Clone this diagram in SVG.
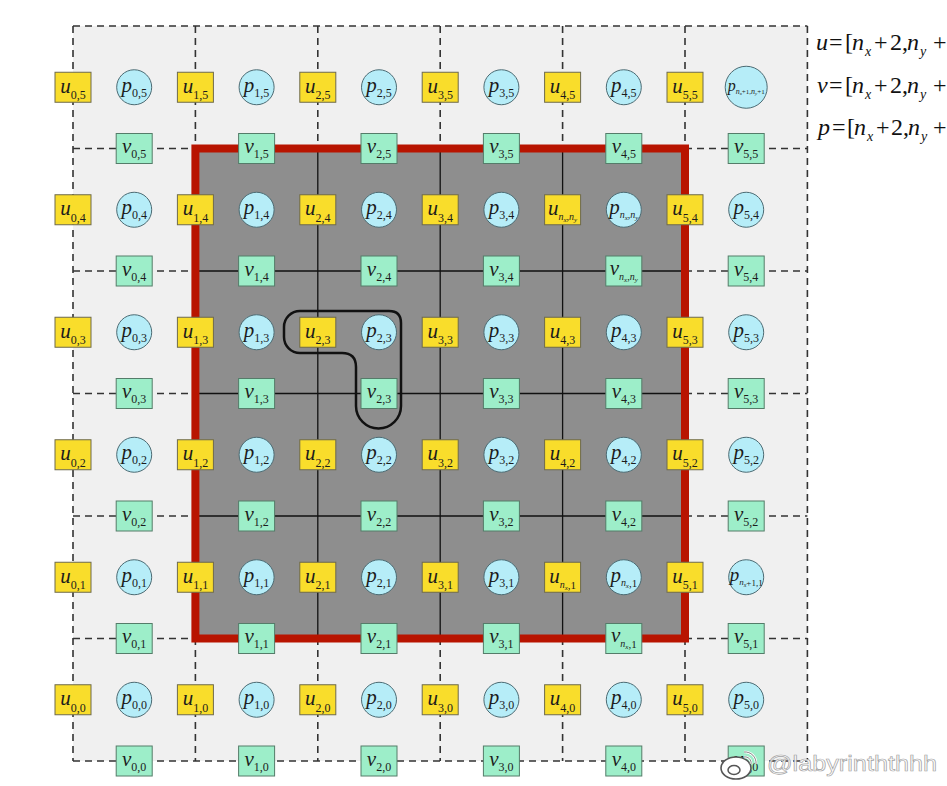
<svg xmlns="http://www.w3.org/2000/svg" width="947" height="786" viewBox="0 0 947 786">
<style>
.bg{fill:#f0f0f0}
.dash{stroke:#333;stroke-width:1.6;stroke-dasharray:7 5;fill:none}
.solid{stroke:#111;stroke-width:1.3;fill:none}
.u rect{fill:#f9dd2b;stroke:#6e6a4c;stroke-width:1}
.v rect{fill:#9deec9;stroke:#547c69;stroke-width:1}
.p circle{fill:#b6edf8;stroke:#4c6b73;stroke-width:1}
text{font-family:"Liberation Serif","Times New Roman",serif;font-style:italic;font-size:21px;text-anchor:middle;fill:#1c1c1c}
tspan.s{font-size:12px;font-style:normal}
tspan.n{font-size:10px;font-style:italic}
tspan.ss{font-size:7px;font-style:italic}
tspan.c{font-size:10px;font-style:normal}
.f text{font-size:24px;text-anchor:start;font-style:normal;fill:#111}
.f .i{font-style:italic}
.f .sb{font-size:14px;font-style:italic}
</style>
<rect width="947" height="786" fill="#ffffff"/>
<rect class="bg" x="73" y="26" width="734.4" height="735"/>
<g id="grid">
<path class="dash" d="M73,26V761M195.4,26V761M317.8,26V761M440.2,26V761M562.6,26V761M685,26V761M807.4,26V761"/>
<path class="dash" d="M73,26H807.4M73,148.5H807.4M73,271H807.4M73,393.5H807.4M73,516H807.4M73,638.5H807.4M73,761H807.4"/>
<rect x="195.4" y="148.5" width="489.6" height="490" fill="#8e8e8e"/>
<path class="solid" d="M317.8,148.5V638.5M440.2,148.5V638.5M562.6,148.5V638.5M195.4,271H685M195.4,393.5H685M195.4,516H685"/>
<rect x="195.4" y="148.5" width="489.6" height="490" fill="none" stroke="#b81400" stroke-width="8"/>
</g>
<g id="connectors">
<path d="M300,311H389Q401,311 401,323V406A22.5,22.5 0 0 1 356,406V367Q356,353 342,353H300A16,16 0 0 1 284,337V327A16,16 0 0 1 300,311Z" fill="none" stroke="#111" stroke-width="2.5"/>
</g>
<g id="nodes">
<g id="u05" class="u" transform="translate(73,87.25)"><rect x="-18" y="-15" width="36" height="30"/><text y="5.5">u<tspan class="s" dy="6.5">0,5</tspan></text></g>
<g id="u15" class="u" transform="translate(195.4,87.25)"><rect x="-18" y="-15" width="36" height="30"/><text y="5.5">u<tspan class="s" dy="6.5">1,5</tspan></text></g>
<g id="u25" class="u" transform="translate(317.8,87.25)"><rect x="-18" y="-15" width="36" height="30"/><text y="5.5">u<tspan class="s" dy="6.5">2,5</tspan></text></g>
<g id="u35" class="u" transform="translate(440.2,87.25)"><rect x="-18" y="-15" width="36" height="30"/><text y="5.5">u<tspan class="s" dy="6.5">3,5</tspan></text></g>
<g id="u45" class="u" transform="translate(562.6,87.25)"><rect x="-18" y="-15" width="36" height="30"/><text y="5.5">u<tspan class="s" dy="6.5">4,5</tspan></text></g>
<g id="u55" class="u" transform="translate(685,87.25)"><rect x="-18" y="-15" width="36" height="30"/><text y="5.5">u<tspan class="s" dy="6.5">5,5</tspan></text></g>
<g id="p05" class="p" transform="translate(134.2,87.25)"><circle r="17.5"/><text y="4.5">p<tspan class="s" dy="5">0,5</tspan></text></g>
<g id="p15" class="p" transform="translate(256.6,87.25)"><circle r="17.5"/><text y="4.5">p<tspan class="s" dy="5">1,5</tspan></text></g>
<g id="p25" class="p" transform="translate(379,87.25)"><circle r="17.5"/><text y="4.5">p<tspan class="s" dy="5">2,5</tspan></text></g>
<g id="p35" class="p" transform="translate(501.4,87.25)"><circle r="17.5"/><text y="4.5">p<tspan class="s" dy="5">3,5</tspan></text></g>
<g id="p45" class="p" transform="translate(623.8,87.25)"><circle r="17.5"/><text y="4.5">p<tspan class="s" dy="5">4,5</tspan></text></g>
<g id="p55" class="p" transform="translate(746.2,87.25)"><circle r="21"/><text y="3.5" style="font-size:16px">p<tspan class="ss" dy="3" style="font-size:8px">n</tspan><tspan class="ss" dy="1.5" style="font-size:5px">x</tspan><tspan class="c" dy="-1.5" style="font-size:7px">+1,</tspan><tspan class="ss" style="font-size:8px">n</tspan><tspan class="ss" dy="1.5" style="font-size:5px">y</tspan><tspan class="c" dy="-1.5" style="font-size:7px">+1</tspan></text></g>
<g id="v05" class="v" transform="translate(134.2,148.5)"><rect x="-18" y="-15" width="36" height="30"/><text y="4.5">v<tspan class="s" dy="5">0,5</tspan></text></g>
<g id="v15" class="v" transform="translate(256.6,148.5)"><rect x="-18" y="-15" width="36" height="30"/><text y="4.5">v<tspan class="s" dy="5">1,5</tspan></text></g>
<g id="v25" class="v" transform="translate(379,148.5)"><rect x="-18" y="-15" width="36" height="30"/><text y="4.5">v<tspan class="s" dy="5">2,5</tspan></text></g>
<g id="v35" class="v" transform="translate(501.4,148.5)"><rect x="-18" y="-15" width="36" height="30"/><text y="4.5">v<tspan class="s" dy="5">3,5</tspan></text></g>
<g id="v45" class="v" transform="translate(623.8,148.5)"><rect x="-18" y="-15" width="36" height="30"/><text y="4.5">v<tspan class="s" dy="5">4,5</tspan></text></g>
<g id="v55" class="v" transform="translate(746.2,148.5)"><rect x="-18" y="-15" width="36" height="30"/><text y="4.5">v<tspan class="s" dy="5">5,5</tspan></text></g>
<g id="u04" class="u" transform="translate(73,209.75)"><rect x="-18" y="-15" width="36" height="30"/><text y="5.5">u<tspan class="s" dy="6.5">0,4</tspan></text></g>
<g id="u14" class="u" transform="translate(195.4,209.75)"><rect x="-18" y="-15" width="36" height="30"/><text y="5.5">u<tspan class="s" dy="6.5">1,4</tspan></text></g>
<g id="u24" class="u" transform="translate(317.8,209.75)"><rect x="-18" y="-15" width="36" height="30"/><text y="5.5">u<tspan class="s" dy="6.5">2,4</tspan></text></g>
<g id="u34" class="u" transform="translate(440.2,209.75)"><rect x="-18" y="-15" width="36" height="30"/><text y="5.5">u<tspan class="s" dy="6.5">3,4</tspan></text></g>
<g id="u44" class="u" transform="translate(562.6,209.75)"><rect x="-18" y="-15" width="36" height="30"/><text y="5.5">u<tspan class="n" dy="5">n</tspan><tspan class="ss" dy="2">x</tspan><tspan class="c" dy="-2">,</tspan><tspan class="n">n</tspan><tspan class="ss" dy="2">y</tspan></text></g>
<g id="u54" class="u" transform="translate(685,209.75)"><rect x="-18" y="-15" width="36" height="30"/><text y="5.5">u<tspan class="s" dy="6.5">5,4</tspan></text></g>
<g id="p04" class="p" transform="translate(134.2,209.75)"><circle r="17.5"/><text y="4.5">p<tspan class="s" dy="5">0,4</tspan></text></g>
<g id="p14" class="p" transform="translate(256.6,209.75)"><circle r="17.5"/><text y="4.5">p<tspan class="s" dy="5">1,4</tspan></text></g>
<g id="p24" class="p" transform="translate(379,209.75)"><circle r="17.5"/><text y="4.5">p<tspan class="s" dy="5">2,4</tspan></text></g>
<g id="p34" class="p" transform="translate(501.4,209.75)"><circle r="17.5"/><text y="4.5">p<tspan class="s" dy="5">3,4</tspan></text></g>
<g id="p44" class="p" transform="translate(623.8,209.75)"><circle r="17.5"/><text y="4.5">p<tspan class="n" dy="4">n</tspan><tspan class="ss" dy="2">x</tspan><tspan class="c" dy="-2">,</tspan><tspan class="n">n</tspan><tspan class="ss" dy="2">y</tspan></text></g>
<g id="p54" class="p" transform="translate(746.2,209.75)"><circle r="17.5"/><text y="4.5">p<tspan class="s" dy="5">5,4</tspan></text></g>
<g id="v04" class="v" transform="translate(134.2,271)"><rect x="-18" y="-15" width="36" height="30"/><text y="4.5">v<tspan class="s" dy="5">0,4</tspan></text></g>
<g id="v14" class="v" transform="translate(256.6,271)"><rect x="-18" y="-15" width="36" height="30"/><text y="4.5">v<tspan class="s" dy="5">1,4</tspan></text></g>
<g id="v24" class="v" transform="translate(379,271)"><rect x="-18" y="-15" width="36" height="30"/><text y="4.5">v<tspan class="s" dy="5">2,4</tspan></text></g>
<g id="v34" class="v" transform="translate(501.4,271)"><rect x="-18" y="-15" width="36" height="30"/><text y="4.5">v<tspan class="s" dy="5">3,4</tspan></text></g>
<g id="v44" class="v" transform="translate(623.8,271)"><rect x="-18" y="-15" width="36" height="30"/><text y="3.5">v<tspan class="n" dy="5">n</tspan><tspan class="ss" dy="2">x</tspan><tspan class="c" dy="-2">,</tspan><tspan class="n">n</tspan><tspan class="ss" dy="2">y</tspan></text></g>
<g id="v54" class="v" transform="translate(746.2,271)"><rect x="-18" y="-15" width="36" height="30"/><text y="4.5">v<tspan class="s" dy="5">5,4</tspan></text></g>
<g id="u03" class="u" transform="translate(73,332.25)"><rect x="-18" y="-15" width="36" height="30"/><text y="5.5">u<tspan class="s" dy="6.5">0,3</tspan></text></g>
<g id="u13" class="u" transform="translate(195.4,332.25)"><rect x="-18" y="-15" width="36" height="30"/><text y="5.5">u<tspan class="s" dy="6.5">1,3</tspan></text></g>
<g id="u23" class="u" transform="translate(317.8,332.25)"><rect x="-18" y="-15" width="36" height="30"/><text y="5.5">u<tspan class="s" dy="6.5">2,3</tspan></text></g>
<g id="u33" class="u" transform="translate(440.2,332.25)"><rect x="-18" y="-15" width="36" height="30"/><text y="5.5">u<tspan class="s" dy="6.5">3,3</tspan></text></g>
<g id="u43" class="u" transform="translate(562.6,332.25)"><rect x="-18" y="-15" width="36" height="30"/><text y="5.5">u<tspan class="s" dy="6.5">4,3</tspan></text></g>
<g id="u53" class="u" transform="translate(685,332.25)"><rect x="-18" y="-15" width="36" height="30"/><text y="5.5">u<tspan class="s" dy="6.5">5,3</tspan></text></g>
<g id="p03" class="p" transform="translate(134.2,332.25)"><circle r="17.5"/><text y="4.5">p<tspan class="s" dy="5">0,3</tspan></text></g>
<g id="p13" class="p" transform="translate(256.6,332.25)"><circle r="17.5"/><text y="4.5">p<tspan class="s" dy="5">1,3</tspan></text></g>
<g id="p23" class="p" transform="translate(379,332.25)"><circle r="17.5"/><text y="4.5">p<tspan class="s" dy="5">2,3</tspan></text></g>
<g id="p33" class="p" transform="translate(501.4,332.25)"><circle r="17.5"/><text y="4.5">p<tspan class="s" dy="5">3,3</tspan></text></g>
<g id="p43" class="p" transform="translate(623.8,332.25)"><circle r="17.5"/><text y="4.5">p<tspan class="s" dy="5">4,3</tspan></text></g>
<g id="p53" class="p" transform="translate(746.2,332.25)"><circle r="17.5"/><text y="4.5">p<tspan class="s" dy="5">5,3</tspan></text></g>
<g id="v03" class="v" transform="translate(134.2,393.5)"><rect x="-18" y="-15" width="36" height="30"/><text y="4.5">v<tspan class="s" dy="5">0,3</tspan></text></g>
<g id="v13" class="v" transform="translate(256.6,393.5)"><rect x="-18" y="-15" width="36" height="30"/><text y="4.5">v<tspan class="s" dy="5">1,3</tspan></text></g>
<g id="v23" class="v" transform="translate(379,393.5)"><rect x="-18" y="-15" width="36" height="30"/><text y="4.5">v<tspan class="s" dy="5">2,3</tspan></text></g>
<g id="v33" class="v" transform="translate(501.4,393.5)"><rect x="-18" y="-15" width="36" height="30"/><text y="4.5">v<tspan class="s" dy="5">3,3</tspan></text></g>
<g id="v43" class="v" transform="translate(623.8,393.5)"><rect x="-18" y="-15" width="36" height="30"/><text y="4.5">v<tspan class="s" dy="5">4,3</tspan></text></g>
<g id="v53" class="v" transform="translate(746.2,393.5)"><rect x="-18" y="-15" width="36" height="30"/><text y="4.5">v<tspan class="s" dy="5">5,3</tspan></text></g>
<g id="u02" class="u" transform="translate(73,454.75)"><rect x="-18" y="-15" width="36" height="30"/><text y="5.5">u<tspan class="s" dy="6.5">0,2</tspan></text></g>
<g id="u12" class="u" transform="translate(195.4,454.75)"><rect x="-18" y="-15" width="36" height="30"/><text y="5.5">u<tspan class="s" dy="6.5">1,2</tspan></text></g>
<g id="u22" class="u" transform="translate(317.8,454.75)"><rect x="-18" y="-15" width="36" height="30"/><text y="5.5">u<tspan class="s" dy="6.5">2,2</tspan></text></g>
<g id="u32" class="u" transform="translate(440.2,454.75)"><rect x="-18" y="-15" width="36" height="30"/><text y="5.5">u<tspan class="s" dy="6.5">3,2</tspan></text></g>
<g id="u42" class="u" transform="translate(562.6,454.75)"><rect x="-18" y="-15" width="36" height="30"/><text y="5.5">u<tspan class="s" dy="6.5">4,2</tspan></text></g>
<g id="u52" class="u" transform="translate(685,454.75)"><rect x="-18" y="-15" width="36" height="30"/><text y="5.5">u<tspan class="s" dy="6.5">5,2</tspan></text></g>
<g id="p02" class="p" transform="translate(134.2,454.75)"><circle r="17.5"/><text y="4.5">p<tspan class="s" dy="5">0,2</tspan></text></g>
<g id="p12" class="p" transform="translate(256.6,454.75)"><circle r="17.5"/><text y="4.5">p<tspan class="s" dy="5">1,2</tspan></text></g>
<g id="p22" class="p" transform="translate(379,454.75)"><circle r="17.5"/><text y="4.5">p<tspan class="s" dy="5">2,2</tspan></text></g>
<g id="p32" class="p" transform="translate(501.4,454.75)"><circle r="17.5"/><text y="4.5">p<tspan class="s" dy="5">3,2</tspan></text></g>
<g id="p42" class="p" transform="translate(623.8,454.75)"><circle r="17.5"/><text y="4.5">p<tspan class="s" dy="5">4,2</tspan></text></g>
<g id="p52" class="p" transform="translate(746.2,454.75)"><circle r="17.5"/><text y="4.5">p<tspan class="s" dy="5">5,2</tspan></text></g>
<g id="v02" class="v" transform="translate(134.2,516)"><rect x="-18" y="-15" width="36" height="30"/><text y="4.5">v<tspan class="s" dy="5">0,2</tspan></text></g>
<g id="v12" class="v" transform="translate(256.6,516)"><rect x="-18" y="-15" width="36" height="30"/><text y="4.5">v<tspan class="s" dy="5">1,2</tspan></text></g>
<g id="v22" class="v" transform="translate(379,516)"><rect x="-18" y="-15" width="36" height="30"/><text y="4.5">v<tspan class="s" dy="5">2,2</tspan></text></g>
<g id="v32" class="v" transform="translate(501.4,516)"><rect x="-18" y="-15" width="36" height="30"/><text y="4.5">v<tspan class="s" dy="5">3,2</tspan></text></g>
<g id="v42" class="v" transform="translate(623.8,516)"><rect x="-18" y="-15" width="36" height="30"/><text y="4.5">v<tspan class="s" dy="5">4,2</tspan></text></g>
<g id="v52" class="v" transform="translate(746.2,516)"><rect x="-18" y="-15" width="36" height="30"/><text y="4.5">v<tspan class="s" dy="5">5,2</tspan></text></g>
<g id="u01" class="u" transform="translate(73,577.25)"><rect x="-18" y="-15" width="36" height="30"/><text y="5.5">u<tspan class="s" dy="6.5">0,1</tspan></text></g>
<g id="u11" class="u" transform="translate(195.4,577.25)"><rect x="-18" y="-15" width="36" height="30"/><text y="5.5">u<tspan class="s" dy="6.5">1,1</tspan></text></g>
<g id="u21" class="u" transform="translate(317.8,577.25)"><rect x="-18" y="-15" width="36" height="30"/><text y="5.5">u<tspan class="s" dy="6.5">2,1</tspan></text></g>
<g id="u31" class="u" transform="translate(440.2,577.25)"><rect x="-18" y="-15" width="36" height="30"/><text y="5.5">u<tspan class="s" dy="6.5">3,1</tspan></text></g>
<g id="u41" class="u" transform="translate(562.6,577.25)"><rect x="-18" y="-15" width="36" height="30"/><text y="5.5">u<tspan class="n" dy="5">n</tspan><tspan class="ss" dy="2">x</tspan><tspan class="s" dy="-1" style="font-size:11px">,1</tspan></text></g>
<g id="u51" class="u" transform="translate(685,577.25)"><rect x="-18" y="-15" width="36" height="30"/><text y="5.5">u<tspan class="s" dy="6.5">5,1</tspan></text></g>
<g id="p01" class="p" transform="translate(134.2,577.25)"><circle r="17.5"/><text y="4.5">p<tspan class="s" dy="5">0,1</tspan></text></g>
<g id="p11" class="p" transform="translate(256.6,577.25)"><circle r="17.5"/><text y="4.5">p<tspan class="s" dy="5">1,1</tspan></text></g>
<g id="p21" class="p" transform="translate(379,577.25)"><circle r="17.5"/><text y="4.5">p<tspan class="s" dy="5">2,1</tspan></text></g>
<g id="p31" class="p" transform="translate(501.4,577.25)"><circle r="17.5"/><text y="4.5">p<tspan class="s" dy="5">3,1</tspan></text></g>
<g id="p41" class="p" transform="translate(623.8,577.25)"><circle r="17.5"/><text y="4.5">p<tspan class="n" dy="4">n</tspan><tspan class="ss" dy="2">x</tspan><tspan class="s" dy="-1" style="font-size:11px">,1</tspan></text></g>
<g id="p51" class="p" transform="translate(746.2,577.25)"><circle r="17.5"/><text y="4" style="font-size:19px">p<tspan class="n" dy="4" style="font-size:9px">n</tspan><tspan class="ss" dy="2" style="font-size:6px">x</tspan><tspan class="s" dy="-1.5" style="font-size:9px">+1,1</tspan></text></g>
<g id="v01" class="v" transform="translate(134.2,638.5)"><rect x="-18" y="-15" width="36" height="30"/><text y="4.5">v<tspan class="s" dy="5">0,1</tspan></text></g>
<g id="v11" class="v" transform="translate(256.6,638.5)"><rect x="-18" y="-15" width="36" height="30"/><text y="4.5">v<tspan class="s" dy="5">1,1</tspan></text></g>
<g id="v21" class="v" transform="translate(379,638.5)"><rect x="-18" y="-15" width="36" height="30"/><text y="4.5">v<tspan class="s" dy="5">2,1</tspan></text></g>
<g id="v31" class="v" transform="translate(501.4,638.5)"><rect x="-18" y="-15" width="36" height="30"/><text y="4.5">v<tspan class="s" dy="5">3,1</tspan></text></g>
<g id="v41" class="v" transform="translate(623.8,638.5)"><rect x="-18" y="-15" width="36" height="30"/><text y="3.5">v<tspan class="n" dy="5">n</tspan><tspan class="ss" dy="2">x</tspan><tspan class="s" dy="-1" style="font-size:11px">,1</tspan></text></g>
<g id="v51" class="v" transform="translate(746.2,638.5)"><rect x="-18" y="-15" width="36" height="30"/><text y="4.5">v<tspan class="s" dy="5">5,1</tspan></text></g>
<g id="u00" class="u" transform="translate(73,699.75)"><rect x="-18" y="-15" width="36" height="30"/><text y="5.5">u<tspan class="s" dy="6.5">0,0</tspan></text></g>
<g id="u10" class="u" transform="translate(195.4,699.75)"><rect x="-18" y="-15" width="36" height="30"/><text y="5.5">u<tspan class="s" dy="6.5">1,0</tspan></text></g>
<g id="u20" class="u" transform="translate(317.8,699.75)"><rect x="-18" y="-15" width="36" height="30"/><text y="5.5">u<tspan class="s" dy="6.5">2,0</tspan></text></g>
<g id="u30" class="u" transform="translate(440.2,699.75)"><rect x="-18" y="-15" width="36" height="30"/><text y="5.5">u<tspan class="s" dy="6.5">3,0</tspan></text></g>
<g id="u40" class="u" transform="translate(562.6,699.75)"><rect x="-18" y="-15" width="36" height="30"/><text y="5.5">u<tspan class="s" dy="6.5">4,0</tspan></text></g>
<g id="u50" class="u" transform="translate(685,699.75)"><rect x="-18" y="-15" width="36" height="30"/><text y="5.5">u<tspan class="s" dy="6.5">5,0</tspan></text></g>
<g id="p00" class="p" transform="translate(134.2,699.75)"><circle r="17.5"/><text y="4.5">p<tspan class="s" dy="5">0,0</tspan></text></g>
<g id="p10" class="p" transform="translate(256.6,699.75)"><circle r="17.5"/><text y="4.5">p<tspan class="s" dy="5">1,0</tspan></text></g>
<g id="p20" class="p" transform="translate(379,699.75)"><circle r="17.5"/><text y="4.5">p<tspan class="s" dy="5">2,0</tspan></text></g>
<g id="p30" class="p" transform="translate(501.4,699.75)"><circle r="17.5"/><text y="4.5">p<tspan class="s" dy="5">3,0</tspan></text></g>
<g id="p40" class="p" transform="translate(623.8,699.75)"><circle r="17.5"/><text y="4.5">p<tspan class="s" dy="5">4,0</tspan></text></g>
<g id="p50" class="p" transform="translate(746.2,699.75)"><circle r="17.5"/><text y="4.5">p<tspan class="s" dy="5">5,0</tspan></text></g>
<g id="v00" class="v" transform="translate(134.2,761)"><rect x="-18" y="-15" width="36" height="30"/><text y="4.5">v<tspan class="s" dy="5">0,0</tspan></text></g>
<g id="v10" class="v" transform="translate(256.6,761)"><rect x="-18" y="-15" width="36" height="30"/><text y="4.5">v<tspan class="s" dy="5">1,0</tspan></text></g>
<g id="v20" class="v" transform="translate(379,761)"><rect x="-18" y="-15" width="36" height="30"/><text y="4.5">v<tspan class="s" dy="5">2,0</tspan></text></g>
<g id="v30" class="v" transform="translate(501.4,761)"><rect x="-18" y="-15" width="36" height="30"/><text y="4.5">v<tspan class="s" dy="5">3,0</tspan></text></g>
<g id="v40" class="v" transform="translate(623.8,761)"><rect x="-18" y="-15" width="36" height="30"/><text y="4.5">v<tspan class="s" dy="5">4,0</tspan></text></g>
<g id="v50" class="v" transform="translate(746.2,761)"><rect x="-18" y="-15" width="36" height="30"/><text y="4.5">v<tspan class="s" dy="5">5,0</tspan></text></g>
</g>
<g id="formulas" class="f">
<text y="50"><tspan class="i" x="816">u</tspan><tspan x="829">=</tspan><tspan x="845">[</tspan><tspan class="i" x="852">n</tspan><tspan class="sb" x="865" dy="6">x</tspan><tspan x="874" dy="-6">+</tspan><tspan x="890">2,</tspan><tspan class="i" x="907">n</tspan><tspan class="sb" x="920" dy="6">y</tspan><tspan x="933" dy="-6">+</tspan></text>
<text y="93"><tspan class="i" x="817">v</tspan><tspan x="829">=</tspan><tspan x="845">[</tspan><tspan class="i" x="852">n</tspan><tspan class="sb" x="865" dy="6">x</tspan><tspan x="874" dy="-6">+</tspan><tspan x="890">2,</tspan><tspan class="i" x="907">n</tspan><tspan class="sb" x="920" dy="6">y</tspan><tspan x="933" dy="-6">+</tspan></text>
<text y="135"><tspan class="i" x="818">p</tspan><tspan x="832">=</tspan><tspan x="847">[</tspan><tspan class="i" x="854">n</tspan><tspan class="sb" x="867" dy="6">x</tspan><tspan x="876" dy="-6">+</tspan><tspan x="891">2,</tspan><tspan class="i" x="908">n</tspan><tspan class="sb" x="921" dy="6">y</tspan><tspan x="933" dy="-6">+</tspan></text>
</g>
<g id="watermark">
<ellipse cx="736" cy="768" rx="15" ry="11" fill="#ffffff" stroke="#555" stroke-width="1.6"/>
<ellipse cx="734" cy="770" rx="6" ry="4.5" fill="none" stroke="#555" stroke-width="1.5"/>
<path d="M744,752A11,11 0 0 1 756,764M744,757A6,6 0 0 1 751,764" fill="none" stroke="#fff" stroke-width="2.5"/>
<path d="M744,752A11,11 0 0 1 756,764M744,757A6,6 0 0 1 751,764" fill="none" stroke="#666" stroke-width="0.8"/>
<text x="767" y="771" style="font-family:'Liberation Sans',Arial,sans-serif;font-style:normal;font-size:22px;text-anchor:start;fill:#ffffff;stroke:#9a9a9a;stroke-width:0.7;opacity:0.9" textLength="170" lengthAdjust="spacingAndGlyphs">@labyrinththhh</text>
</g>
</svg>
